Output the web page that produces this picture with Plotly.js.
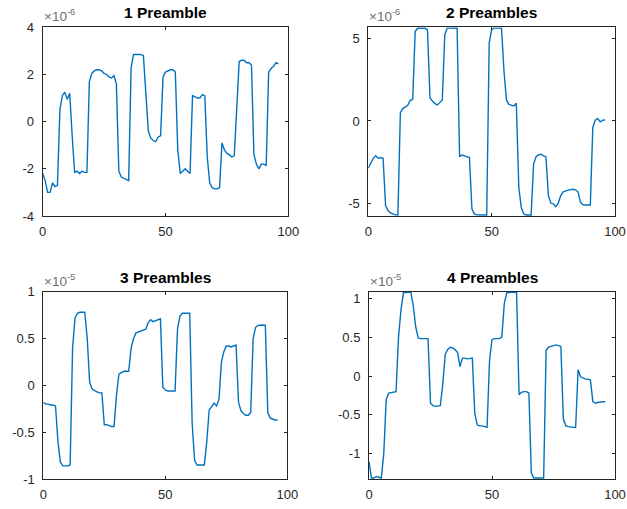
<!DOCTYPE html>
<html>
<head>
<meta charset="utf-8">
<script src="https://cdn.plot.ly/plotly-3.0.1.min.js"></script>
<style>
  html, body { margin: 0; padding: 0; background: #fff; }
  #chart { width: 627px; height: 509px; }
</style>
</head>
<body>
<div id="chart"></div>
<script>
// ---- Data ----
const titles = ["1 Preamble", "2 Preambles", "3 Preambles", "4 Preambles"];
const exponents = ["-6", "-6", "-5", "-5"];

const preamble1 = [
  -2.2, -2.5, -3.0, -3.0, -2.6, -2.75, -2.7, 0.5, 1.1, 1.25,
  0.95, 1.2, -0.6, -2.15, -2.1, -2.2, -2.1, -2.15, -2.15, 1.7,
  2.05, 2.15, 2.2, 2.2, 2.15, 2.05, 2.0, 1.9, 1.85, 1.95,
  1.6, -2.1, -2.35, -2.4, -2.45, -2.5, 2.3, 2.85, 2.85, 2.85,
  2.85, 2.8, 1.0, -0.4, -0.7, -0.8, -0.85, -0.65, -0.6, 1.9,
  2.1, 2.15, 2.2, 2.2, 2.1, -1.2, -2.2, -2.1, -2.0, -2.1,
  -2.2, 1.1, 1.05, 1.0, 1.0, 1.15, 1.1, -1.5, -2.6, -2.8,
  -2.85, -2.85, -2.8, -0.9, -1.2, -1.35, -1.4, -1.5, -1.45, 0.5,
  2.55, 2.6, 2.6, 2.5, 2.5, 2.4, -1.4, -1.8, -2.0, -1.8,
  -1.8, -1.85, 2.1, 2.25, 2.35, 2.5, 2.45
];

const preamble2 = [
  -2.85, -2.5, -2.25, -2.1, -2.25, -2.2, -2.25, -5.1, -5.4, -5.55,
  -5.62, -5.66, -5.67, 0.5, 0.75, 0.85, 0.95, 1.25, 1.3, 5.4,
  5.59, 5.6, 5.6, 5.59, 5.5, 1.4, 1.2, 1.05, 0.97, 1.1,
  1.27, 5.2, 5.6, 5.6, 5.6, 5.6, 5.59, -2.15, -2.05, -2.1,
  -2.15, -2.2, -5.3, -5.6, -5.66, -5.67, -5.67, -5.66, -5.67, 4.7,
  5.5, 5.6, 5.6, 5.59, 5.6, 3.0, 1.27, 1.0, 0.95, 0.9,
  1.07, -4.0, -5.2, -5.6, -5.67, -5.66, -5.67, -2.6, -2.15, -2.05,
  -2.0, -2.1, -2.15, -4.5, -4.95, -5.0, -5.17, -4.95, -4.5, -4.27,
  -4.2, -4.17, -4.15, -4.12, -4.15, -4.27, -4.9, -5.05, -5.07, -5.07,
  -5.07, -0.4, 0.05, 0.15, -0.05, 0.05, 0.06
];

const preamble3 = [
  -0.18, -0.2, -0.2, -0.21, -0.21, -0.22, -0.6, -0.82, -0.86, -0.86,
  -0.86, -0.85, 0.4, 0.72, 0.77, 0.78, 0.78, 0.78, 0.5, 0.03,
  -0.04, -0.06, -0.07, -0.08, -0.08, -0.42, -0.42, -0.43, -0.44, -0.44,
  -0.1, 0.12, 0.14, 0.15, 0.15, 0.15, 0.4, 0.5, 0.56, 0.57,
  0.58, 0.59, 0.6, 0.67, 0.7, 0.68, 0.69, 0.7, 0.71, -0.02,
  -0.05, -0.06, -0.06, -0.06, -0.06, 0.6, 0.74, 0.77, 0.77, 0.77,
  0.77, -0.4, -0.8, -0.85, -0.85, -0.85, -0.85, -0.6, -0.26, -0.23,
  -0.19, -0.22, -0.15, 0.25, 0.36, 0.42, 0.42, 0.41, 0.42, 0.43,
  -0.18, -0.27, -0.3, -0.32, -0.32, -0.29, 0.5, 0.62, 0.64, 0.645,
  0.645, 0.64, -0.29, -0.35, -0.36, -0.37, -0.37
];

const preamble4 = [
  -1.1, -1.31, -1.31, -1.29, -1.3, -1.31, -1.0, -0.3, -0.22, -0.21,
  -0.21, -0.2, 0.5, 0.85, 1.07, 1.075, 1.075, 1.075, 0.9, 0.63,
  0.49, 0.48, 0.48, 0.48, 0.48, -0.35, -0.38, -0.39, -0.38, -0.38,
  -0.1, 0.28, 0.34, 0.37, 0.36, 0.34, 0.3, 0.12, 0.23, 0.23,
  0.22, 0.23, 0.23, -0.48, -0.63, -0.64, -0.64, -0.65, -0.66, 0.2,
  0.47, 0.48, 0.48, 0.48, 0.5, 0.93, 1.07, 1.075, 1.075, 1.075,
  1.07, -0.24, -0.21, -0.2, -0.2, -0.22, -1.25, -1.31, -1.31, -1.305,
  -1.31, -1.31, 0.33, 0.37, 0.38, 0.39, 0.4, 0.39, 0.38, -0.55,
  -0.64, -0.65, -0.66, -0.66, -0.66, 0.08, -0.01, -0.03, -0.04, -0.04,
  -0.05, -0.33, -0.35, -0.34, -0.33, -0.33, -0.33
];

const xTickVals = [0, 50, 100];
const xTickText = ["0", "50", "100"];
const yTickVals1 = [-4, -2, 0, 2, 4];
const yTickText1 = ["-4", "-2", "0", "2", "4"];
const yTickVals2 = [-5, 0, 5];
const yTickText2 = ["-5", "0", "5"];
const yTickVals3 = [-1, -0.5, 0, 0.5, 1];
const yTickText3 = ["-1", "-0.5", "0", "0.5", "1"];
const yTickVals4 = [-1, -0.5, 0, 0.5, 1];
const yTickText4 = ["-1", "-0.5", "0", "0.5", "1"];

// ---- Layout geometry ----
const W = 627, H = 509;
const series = [preamble1, preamble2, preamble3, preamble4];
const sampleIndex = preamble1.map((_, i) => i);

const boxes = [
  {l: 42.7, r: 288.3, t: 27.3, b: 216, yr: [-4, 4], tv: yTickVals1, tt: yTickText1},
  {l: 368.3, r: 615, t: 27.3, b: 216, yr: [-5.73, 5.65], tv: yTickVals2, tt: yTickText2},
  {l: 43.3, r: 287.3, t: 291.7, b: 479, yr: [-1, 1], tv: yTickVals3, tt: yTickText3},
  {l: 369, r: 615, t: 291.7, b: 479, yr: [-1.323, 1.083], tv: yTickVals4, tt: yTickText4}
];

const fontFam = "Liberation Sans, Arial, Helvetica, sans-serif";
const axisColor = "#262626";

const traces = series.map((ys, i) => ({
  x: sampleIndex,
  y: ys,
  type: "scatter",
  mode: "lines",
  line: {color: "#0072BD", width: 1.4},
  xaxis: i === 0 ? "x" : "x" + (i + 1),
  yaxis: i === 0 ? "y" : "y" + (i + 1),
  hoverinfo: "skip",
  showlegend: false
}));

const layout = {
  width: W, height: H,
  margin: {l: 0, r: 0, t: 0, b: 0},
  paper_bgcolor: "#fff",
  plot_bgcolor: "#fff",
  showlegend: false,
  annotations: []
};

boxes.forEach((bx, i) => {
  const sfx = i === 0 ? "" : String(i + 1);
  const common = {
    showline: true, linecolor: axisColor, linewidth: 1,
    mirror: "ticks", ticks: "inside", ticklen: 3, tickcolor: axisColor, tickwidth: 1,
    showgrid: false, zeroline: false, automargin: false,
    tickfont: {family: fontFam, size: 13, color: axisColor},
    fixedrange: true
  };
  layout["xaxis" + sfx] = Object.assign({}, common, {
    domain: [bx.l / W, bx.r / W],
    anchor: "y" + sfx,
    range: [0, 100],
    tickmode: "array", tickvals: xTickVals, ticktext: xTickText,
    ticklabelstandoff: 3
  });
  layout["yaxis" + sfx] = Object.assign({}, common, {
    domain: [1 - bx.b / H, 1 - bx.t / H],
    anchor: "x" + sfx,
    range: bx.yr,
    tickmode: "array", tickvals: bx.tv, ticktext: bx.tt,
    ticklabelstandoff: 5
  });
  layout.annotations.push({
    text: "<b>" + titles[i] + "</b>",
    xref: "paper", yref: "paper",
    x: (bx.l + bx.r) / 2 / W, y: 1 - (bx.t - 4) / H,
    xanchor: "center", yanchor: "bottom",
    showarrow: false,
    font: {family: fontFam, size: 15.5, color: "#000"}
  });
  layout.annotations.push({
    text: "×10<sup>" + exponents[i] + "</sup>",
    xref: "paper", yref: "paper",
    x: (bx.l - 1) / W, y: 1 - (bx.t - 1) / H,
    xanchor: "left", yanchor: "bottom",
    showarrow: false,
    font: {family: fontFam, size: 13.5, color: "#6e6e6e"}
  });
});

Plotly.newPlot("chart", traces, layout, {displayModeBar: false, staticPlot: true});
</script>
</body>
</html>
